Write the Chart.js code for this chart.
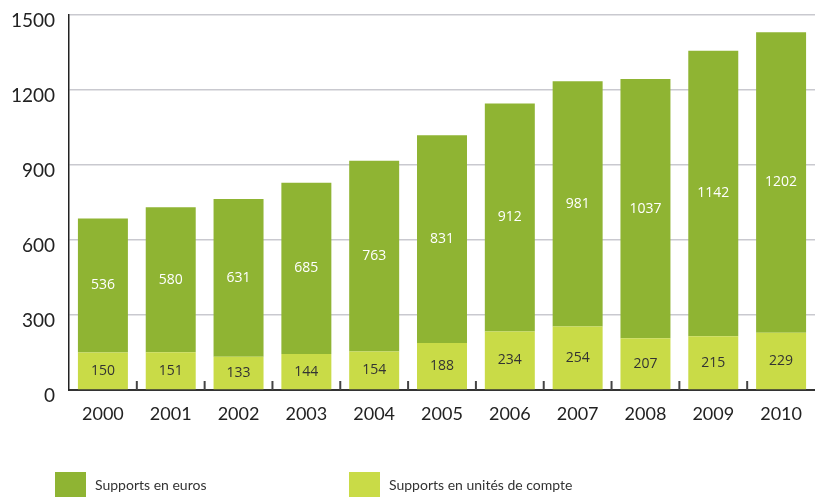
<!DOCTYPE html>
<html>
<head>
<meta charset="utf-8">
<script src="https://cdn.jsdelivr.net/npm/chart.js@4/dist/chart.umd.min.js"></script>
<style>
  html, body { margin:0; padding:0; background:#fff; }
  #wrap { position:relative; width:815px; height:497px; overflow:hidden; }
  canvas { position:absolute; left:0; top:0; }
  .leg { position:absolute; top:472px; height:25px; display:flex; align-items:center; font-family:Lato, sans-serif; font-size:14px; color:#333; }
  .leg span.sw { display:inline-block; width:31px; height:25px; margin-right:9px; }
</style>
</head>
<body>
<div id="wrap">
  <canvas id="c" width="815" height="497"></canvas>
</div>
<script>
const years = ['2000','2001','2002','2003','2004','2005','2006','2007','2008','2009','2010'];
const unitesDeCompte = [150,151,133,144,154,188,234,254,207,215,229];
const euros = [536,580,631,685,763,831,912,981,1037,1142,1202];
const yTicks = [0,300,600,900,1200,1500];
const labelEuros = 'Supports en euros';
const labelUC = 'Supports en unités de compte';
const colEuros = '#8fb433';
const colUC = '#c9db47';

const valueLabels = {
  id:'valueLabels',
  afterDatasetsDraw(chart){
    const ctx = chart.ctx;
    ctx.save();
    ctx.font = '14px "Open Sans", sans-serif';
    ctx.textAlign = 'center';
    ctx.textBaseline = 'middle';
    chart.data.datasets.forEach((ds, di) => {
      const meta = chart.getDatasetMeta(di);
      ctx.fillStyle = ds.labelColor;
      meta.data.forEach((el, i) => {
        const cy = (el.y + el.base) / 2;
        ctx.fillText(String(ds.data[i]), el.x, cy);
      });
    });
    ctx.restore();
  },
  afterDraw(chart){
    const ctx = chart.ctx;
    const xs = chart.scales.x;
    const area = chart.chartArea;
    ctx.save();
    ctx.strokeStyle = '#444';
    ctx.lineWidth = 2;
    for (let i = 0; i < years.length - 1; i++) {
      const bx = (xs.getPixelForValue(i) + xs.getPixelForValue(i + 1)) / 2;
      ctx.beginPath();
      ctx.moveTo(bx, area.bottom);
      ctx.lineTo(bx, area.bottom - 9);
      ctx.stroke();
    }
    ctx.restore();
  }
};

const chart = new Chart(document.getElementById('c'), {
  type:'bar',
  data:{
    labels: years,
    datasets:[
      { label: labelUC, data: unitesDeCompte, backgroundColor: colUC, labelColor:'#333' },
      { label: labelEuros, data: euros, backgroundColor: colEuros, labelColor:'#ffffff' }
    ]
  },
  options:{
    responsive:false,
    animation:false,
    layout:{ padding:{ top:15, right:0, left:0, bottom:0 } },
    datasets:{ bar:{ categoryPercentage:1, barPercentage:0.737 } },
    plugins:{ legend:{ display:false }, tooltip:{ enabled:false } },
    scales:{
      x:{
        stacked:true,
        grid:{ display:false, drawTicks:false },
        border:{ display:true, color:'#333', width:2 },
        ticks:{ color:'#222', font:{ family:'Lato, sans-serif', size:18 }, padding:13 },
        afterFit(s){ s.height = 107; s.paddingLeft = 0; s.paddingRight = 0; }
      },
      y:{
        stacked:true,
        min:0, max:1500,
        afterBuildTicks(s){ s.ticks = yTicks.map(v => ({ value:v })); },
        grid:{ color:'#c9c9cf', lineWidth:1.5, drawTicks:false },
        border:{ display:true, color:'#222', width:1.5 },
        ticks:{ color:'#222', font:{ family:'Lato, sans-serif', size:19 }, padding:14, labelOffset:6,
                callback:(v) => String(v) },
        afterFit(s){ s.width = 69; s.paddingTop = 0; s.paddingBottom = 0; }
      }
    }
  },
  plugins:[valueLabels]
});

// HTML legend from datasets
const wrap = document.getElementById('wrap');
const legendPos = [55, 349];
[chart.data.datasets[1], chart.data.datasets[0]].forEach((ds, i) => {
  const d = document.createElement('div');
  d.className = 'leg';
  d.style.left = legendPos[i] + 'px';
  const sw = document.createElement('span');
  sw.className = 'sw';
  sw.style.background = ds.backgroundColor;
  d.appendChild(sw);
  d.appendChild(document.createTextNode(ds.label));
  wrap.appendChild(d);
});
</script>
</body>
</html>
